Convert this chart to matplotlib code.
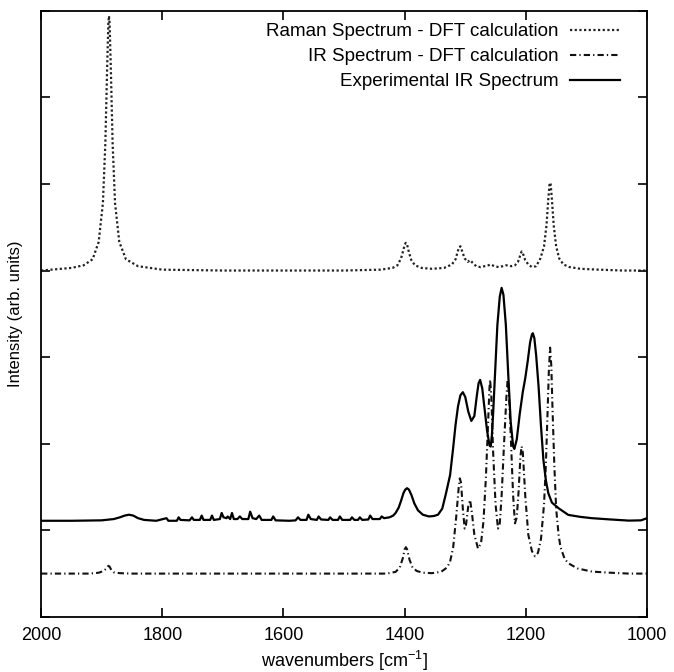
import matplotlib
matplotlib.use("Agg")
import matplotlib.pyplot as plt

plt.rcParams["font.family"] = ["Liberation Sans", "DejaVu Sans"]

# Raman spectrum (DFT), offset baseline at 4
raman_x = [2000, 1950, 1930, 1915, 1905, 1898, 1894, 1891, 1889, 1888, 1887, 1885,
           1882, 1878, 1871, 1860, 1840, 1800, 1700, 1600, 1500, 1440, 1420, 1412,
           1406, 1402, 1400, 1398, 1396, 1393, 1389, 1383, 1372, 1355, 1335, 1322,
           1316, 1312, 1310, 1308, 1305, 1301, 1296, 1292, 1288, 1282, 1275, 1268,
           1262, 1258, 1252, 1245, 1238, 1233, 1229, 1224, 1218, 1213, 1209, 1207,
           1205, 1201, 1196, 1190, 1183, 1176, 1170, 1166, 1163, 1161, 1160, 1159,
           1157, 1154, 1150, 1145, 1138, 1128, 1110, 1080, 1040, 1000]
raman_y = [4.00, 4.03, 4.06, 4.13, 4.33, 4.78, 5.47, 6.35, 6.86, 6.94, 6.86, 6.35,
           5.47, 4.78, 4.33, 4.13, 4.05, 4.01, 4.00, 4.00, 4.00, 4.01, 4.03, 4.06,
           4.14, 4.24, 4.30, 4.32, 4.30, 4.21, 4.12, 4.06, 4.03, 4.02, 4.03, 4.07,
           4.13, 4.23, 4.27, 4.28, 4.22, 4.14, 4.10, 4.12, 4.09, 4.05, 4.04, 4.05,
           4.06, 4.07, 4.05, 4.04, 4.05, 4.06, 4.06, 4.05, 4.06, 4.10, 4.18, 4.22,
           4.20, 4.12, 4.07, 4.04, 4.05, 4.14, 4.28, 4.52, 4.82, 4.99, 5.015, 4.99,
           4.82, 4.52, 4.28, 4.14, 4.07, 4.04, 4.02, 4.01, 4.00, 4.00]

# IR spectrum (DFT), baseline at 0.5
ir_x = [2000, 1920, 1905, 1897, 1892, 1889, 1887, 1884, 1880, 1870, 1850, 1430,
        1415, 1408, 1403, 1400, 1398, 1396, 1392, 1387, 1380, 1370, 1355, 1340,
        1330, 1325, 1320, 1315, 1311, 1309, 1307, 1304, 1301, 1299, 1295, 1292,
        1289, 1285, 1279, 1274, 1270, 1266, 1262, 1260, 1259, 1257, 1254, 1250,
        1246, 1243, 1240, 1236, 1232, 1230, 1228, 1225, 1221, 1218, 1215, 1212,
        1209, 1207, 1205, 1201, 1196, 1190, 1185, 1180, 1175, 1170, 1167, 1164,
        1162, 1160, 1158, 1156, 1153, 1150, 1146, 1143, 1136, 1130, 1115, 1091,
        1060, 1030, 1000]
ir_y = [0.50, 0.50, 0.51, 0.53, 0.56, 0.59, 0.58, 0.54, 0.515, 0.505, 0.50, 0.50,
        0.52, 0.57, 0.68, 0.78, 0.805, 0.78, 0.66, 0.57, 0.53, 0.51, 0.505, 0.52,
        0.57, 0.64, 0.80, 1.15, 1.48, 1.60, 1.55, 1.25, 1.02, 1.05, 1.28, 1.35,
        1.20, 0.95, 0.79, 0.85, 1.10, 1.60, 2.30, 2.65, 2.74, 2.55, 1.90, 1.30,
        1.02, 1.08, 1.40, 2.00, 2.55, 2.74, 2.60, 2.10, 1.40, 1.08, 1.15, 1.45,
        1.85, 1.97, 1.90, 1.40, 0.95, 0.76, 0.70, 0.74, 0.90, 1.30, 1.75, 2.40,
        2.85, 3.11, 2.90, 2.40, 1.75, 1.25, 0.95, 0.81, 0.67, 0.62, 0.56, 0.523,
        0.51, 0.50, 0.50]

# experimental IR spectrum
exp_x = [2000, 1950, 1900, 1880, 1870, 1862, 1855, 1848, 1840, 1830, 1810, 1793,
         1790, 1776, 1773, 1770, 1755, 1751, 1748, 1738, 1735, 1732, 1721, 1718,
         1715, 1705, 1702, 1699, 1694, 1692, 1688, 1685, 1682, 1676, 1672, 1668,
         1658, 1655, 1651, 1645, 1640, 1636, 1620, 1617, 1613, 1590, 1580, 1576,
         1572, 1562, 1559, 1555, 1545, 1542, 1538, 1526, 1523, 1519, 1510, 1507,
         1503, 1490, 1487, 1483, 1477, 1474, 1470, 1460, 1457, 1453, 1441, 1438,
         1434, 1425, 1419, 1415, 1410, 1406, 1402, 1399, 1396, 1393, 1389, 1384,
         1378, 1370, 1360, 1352, 1345, 1338, 1332, 1325, 1320, 1316, 1312, 1308,
         1304, 1300, 1295, 1290, 1285, 1281, 1278, 1275.5, 1272, 1268, 1264, 1260,
         1258, 1256, 1254, 1251, 1247, 1243, 1240, 1237, 1233, 1229, 1225, 1221,
         1219, 1215, 1210, 1205, 1201, 1197, 1193, 1190, 1188.5, 1186, 1183, 1179,
         1175, 1171, 1167, 1163, 1157, 1146, 1130, 1110, 1091, 1060, 1030, 1010,
         1000]
exp_y = [1.11, 1.11, 1.115, 1.13, 1.15, 1.17, 1.18, 1.17, 1.14, 1.12, 1.11, 1.14,
         1.11, 1.11, 1.15, 1.12, 1.115, 1.15, 1.12, 1.12, 1.17, 1.12, 1.12, 1.17,
         1.12, 1.13, 1.20, 1.15, 1.14, 1.16, 1.13, 1.20, 1.13, 1.13, 1.16, 1.13,
         1.13, 1.215, 1.14, 1.13, 1.17, 1.12, 1.12, 1.16, 1.115, 1.11, 1.115, 1.15,
         1.12, 1.12, 1.18, 1.13, 1.12, 1.16, 1.125, 1.12, 1.15, 1.12, 1.12, 1.16,
         1.12, 1.12, 1.15, 1.12, 1.12, 1.15, 1.12, 1.125, 1.17, 1.13, 1.13, 1.16,
         1.14, 1.15, 1.17, 1.20, 1.26, 1.34, 1.43, 1.47, 1.486, 1.47, 1.41, 1.31,
         1.23, 1.18, 1.16, 1.165, 1.18, 1.25, 1.42, 1.64, 1.95, 2.22, 2.43, 2.56,
         2.595, 2.54, 2.37, 2.263, 2.32, 2.55, 2.70, 2.737, 2.64, 2.40, 2.15, 1.98,
         1.967, 2.10, 2.35, 2.79, 3.37, 3.70, 3.80, 3.72, 3.37, 2.79, 2.25, 1.97,
         1.94, 2.05, 2.35, 2.60, 2.756, 2.95, 3.17, 3.26, 3.276, 3.22, 3.02, 2.66,
         2.20, 1.81, 1.58, 1.43, 1.32, 1.255, 1.178, 1.155, 1.14, 1.125, 1.112, 1.115,
         1.14]

x_ticks = [2000, 1800, 1600, 1400, 1200, 1000]
y_ticks = [0, 1, 2, 3, 4, 5, 6, 7]

fig = plt.figure(figsize=(6.74, 6.72), dpi=100)
ax = fig.add_axes([0.061, 0.082, 0.899, 0.902])

ax.plot(raman_x, raman_y, color="#222222", lw=1.6, linestyle=(0, (1, 1.1)),
        label="Raman Spectrum - DFT calculation")
ax.plot(ir_x, ir_y, color="#111111", lw=1.5, linestyle=(0, (3, 1.5, 0.6, 1.5)),
        label="IR Spectrum - DFT calculation")
ax.plot(exp_x, exp_y, color="black", lw=1.6, label="Experimental IR Spectrum")

ax.set_xlim(2000, 1000)
ax.set_ylim(0, 7)
ax.set_xticks(x_ticks)
ax.set_yticks(y_ticks)
ax.set_yticklabels([])
ax.tick_params(direction="in", length=6.5, width=1.2, top=True, right=True,
               labelsize=13, pad=7)
for s in ax.spines.values():
    s.set_linewidth(1.3)

ax.set_xlabel("wavenumbers [cm$^{\\mathregular{-1}}$]", fontsize=13, labelpad=4)
ax.set_ylabel("Intensity (arb. units)", fontsize=12, labelpad=6)

ax.legend(loc="upper right", bbox_to_anchor=(0.968, 0.992), borderaxespad=0,
          frameon=False, markerfirst=False, fontsize=13.5,
          handlelength=2.7, labelspacing=0.42, handletextpad=0.6)

fig.savefig("out.png", dpi=100)
